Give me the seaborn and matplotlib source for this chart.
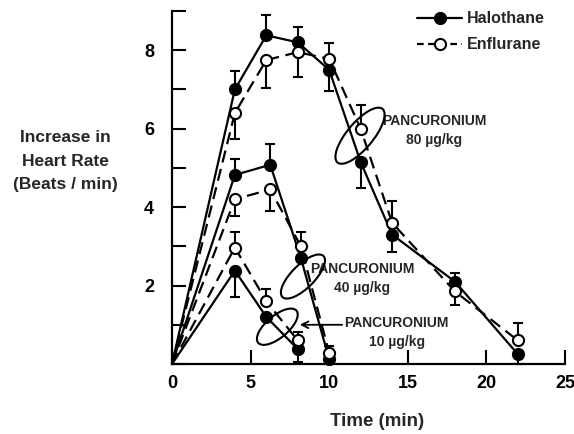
import matplotlib
matplotlib.use("Agg")
import matplotlib.pyplot as plt
import matplotlib.transforms as mtransforms
from matplotlib.patches import Ellipse
from matplotlib.lines import Line2D
import seaborn as sns
import pandas as pd

# ---- data ----
time_80 = [0, 4, 6, 8, 10, 12, 14, 18, 22]
halothane_80 = [0, 7.0, 8.38, 8.2, 7.5, 5.15, 3.3, 2.1, 0.25]
enflurane_80 = [0, 6.4, 7.75, 7.95, 7.78, 6.0, 3.6, 1.85, 0.6]
halothane_80_bar = [None, 7.46, 8.9, 8.6, 6.97, 4.5, 2.85, 2.33, 0.0]
enflurane_80_bar = [None, 5.74, 7.03, 7.33, 8.18, 6.6, 4.15, 1.5, 1.05]

time_40 = [0, 4, 6.25, 8.2, 10]
halothane_40 = [0, 4.82, 5.08, 2.7, 0.12]
enflurane_40 = [0, 4.2, 4.45, 3.0, 0.28]
halothane_40_bar = [None, 5.23, 5.6, None, 0.0]
enflurane_40_bar = [None, 3.77, 3.9, 3.36, 0.45]

time_10 = [0, 4, 6, 8]
halothane_10 = [0, 2.38, 1.2, 0.38]
enflurane_10 = [0, 2.97, 1.6, 0.6]
halothane_10_bar = [None, 1.72, None, 0.05]
enflurane_10_bar = [None, 3.36, 1.92, 0.82]

x_ticks = [0, 5, 10, 15, 20, 25]
y_ticks = [0, 1, 2, 3, 4, 5, 6, 7, 8, 9]
y_tick_labels = ["", "", "2", "", "4", "", "6", "", "8", ""]

sns.set_theme(style="white")
plt.rcParams['font.family'] = ['Liberation Sans', 'DejaVu Sans']
plt.rcParams['font.weight'] = 'bold'

fig = plt.figure(figsize=(5.74, 4.34), dpi=100)
ax = fig.add_axes([172/574, 1-364/434, (565-172)/574, (364-11)/434])

groups = [
    (time_80, halothane_80, halothane_80_bar, "Halothane"),
    (time_80, enflurane_80, enflurane_80_bar, "Enflurane"),
    (time_40, halothane_40, halothane_40_bar, "Halothane"),
    (time_40, enflurane_40, enflurane_40_bar, "Enflurane"),
    (time_10, halothane_10, halothane_10_bar, "Halothane"),
    (time_10, enflurane_10, enflurane_10_bar, "Enflurane"),
]

MS = 8.0
for t, y, bar, drug in groups:
    df = pd.DataFrame({"t": t, "y": y})
    hal = drug == "Halothane"
    sns.lineplot(data=df, x="t", y="y", ax=ax, color="black", lw=1.6,
                 linestyle="-" if hal else (0, (5.5, 3)), marker="o",
                 markevery=list(range(1, len(t))),
                 markersize=MS, markerfacecolor="black" if hal else "white",
                 markeredgecolor="black", markeredgewidth=1.5,
                 estimator=None, sort=False, clip_on=False, zorder=3)
    # one-sided error bars
    for ti, yi, bi in zip(t, y, bar):
        if bi is None:
            continue
        lo = max(yi - bi, 0) if bi < yi else 0
        hi = bi - yi if bi > yi else 0
        ax.errorbar([ti], [yi], yerr=[[lo], [hi]], fmt="none", ecolor="black",
                    elinewidth=1.5, capsize=3.5, capthick=1.5, zorder=2,
                    clip_on=False)

ax.set_xlim(0, 25)
ax.set_ylim(0, 9)
ax.set_xticks(x_ticks)
ax.set_xticklabels([str(v) for v in x_ticks])
ax.set_yticks(y_ticks)
ax.set_yticklabels(y_tick_labels)
ax.tick_params(axis="both", direction="in", length=10, width=1.5,
               labelsize=13, color="black", labelcolor="black")
ax.tick_params(axis="y", pad=13, left=True)
ax.tick_params(axis="x", pad=8, bottom=True)
for s in ["top", "right"]:
    ax.spines[s].set_visible(False)
for s in ["left", "bottom"]:
    ax.spines[s].set_color("black")
    ax.spines[s].set_linewidth(1.6)
ax.set_xlabel("")
ax.set_ylabel("")
ax.grid(False)

fig.text(377/574, 1-421/434, "Time (min)", ha="center", va="center",
         fontsize=13.5, fontweight="bold")
fig.text(65/574, 1-161/434, "Increase in\nHeart Rate\n(Beats / min)",
         ha="center", va="center", fontsize=12.5, fontweight="bold",
         linespacing=1.68)

# legend
handles = [
    Line2D([], [], color="black", lw=1.6, marker="o", markersize=MS,
           markerfacecolor="black", markeredgewidth=1.5),
    Line2D([], [], color="black", lw=1.6, linestyle=(0, (3, 2)), marker="o",
           markersize=MS, markerfacecolor="white", markeredgewidth=1.5),
]
leg = ax.legend(handles, ["Halothane", "Enflurane"], loc="upper right",
                bbox_to_anchor=(0.985, 1.04), frameon=False, fontsize=11.5,
                handlelength=2.8, labelspacing=0.7, handletextpad=0.3)
for txt in leg.get_texts():
    txt.set_fontweight("bold")

# ellipses in pixel units around data points
def ell(cx, cy, w, h, angle):
    tr = fig.dpi_scale_trans + mtransforms.ScaledTranslation(cx, cy, ax.transData)
    e = Ellipse((0, 0), w / 100, h / 100, angle=angle, transform=tr,
                fill=False, ec="black", lw=1.5, clip_on=False, zorder=4)
    ax.add_patch(e)

ell(11.96, 5.82, 70, 26, 50)
ell(8.33, 2.23, 58, 23, 45)
ell(6.7, 0.95, 50, 22, 40)

ax.text(16.7, 5.95, "PANCURONIUM\n80 µg/kg", ha="center", va="center",
        fontsize=10, fontweight="bold", linespacing=1.45)
ax.text(12.1, 2.18, "PANCURONIUM\n40 µg/kg", ha="center", va="center",
        fontsize=10, fontweight="bold", linespacing=1.45)
ax.text(14.3, 0.8, "PANCURONIUM\n10 µg/kg", ha="center", va="center",
        fontsize=10, fontweight="bold", linespacing=1.45)
ax.annotate("", xy=(7.95, 1.0), xytext=(11.0, 1.0),
            arrowprops=dict(arrowstyle="->", color="black", lw=1.3))

fig.savefig("out.png", dpi=100)
